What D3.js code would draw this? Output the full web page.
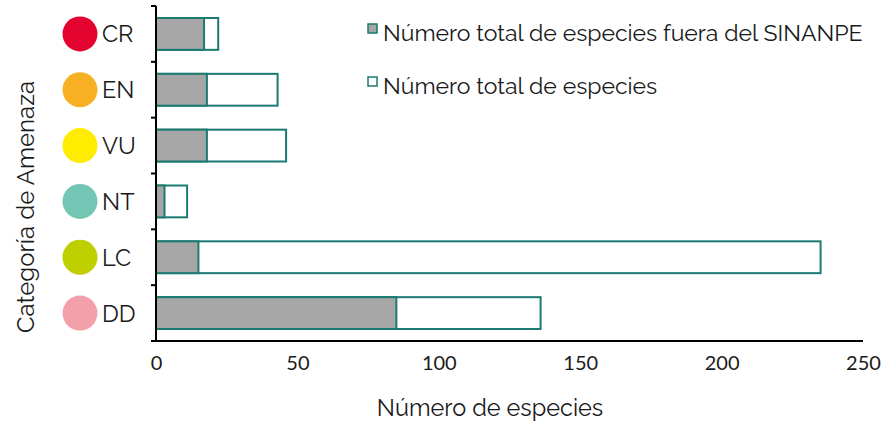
<!DOCTYPE html>
<html>
<head>
<meta charset="utf-8">
<script src="https://cdn.jsdelivr.net/npm/d3@7"></script>
<style>
  body { margin: 0; background: #fff; }
  text { fill: #1a1a1a; }
</style>
</head>
<body>
<script>
// data
var categories = ["CR", "EN", "VU", "NT", "LC", "DD"];
var catColors = ["#e4032e", "#f8b124", "#ffec00", "#74c5b4", "#bed000", "#f4a0aa"];
var fueraSinanpe = [17, 18, 18, 3, 15, 85];
var totalEspecies = [22, 43, 46, 11, 235, 136];
var xTicks = [0, 50, 100, 150, 200, 250];
var legendLabels = ["Número total de especies fuera del SINANPE", "Número total de especies"];

var svg_width = 887;
var svg_height = 423;
var teal = "#1b7a71";
var grey = "#a6a6a6";

const svg = d3.select('body')
    .append('svg')
    .attr("width", svg_width)
    .attr("height", svg_height);

// scales
const x = d3.scaleLinear().domain([0, 250]).range([156, 863]);
const y = d3.scaleBand().domain(categories).range([6, 341])
    .paddingInner(0.43).paddingOuter(0.215);

const rows = categories.map((c, i) => ({
    cat: c, color: catColors[i], fuera: fueraSinanpe[i], total: totalEspecies[i]
}));

// total bars (white with teal border) first, grey on top
svg.append('g').selectAll('rect')
    .data(rows).enter().append('rect')
    .attr('x', x(0))
    .attr('y', d => y(d.cat))
    .attr('width', d => x(d.total) - x(0))
    .attr('height', y.bandwidth())
    .attr('fill', '#fff')
    .attr('stroke', teal)
    .attr('stroke-width', 2);

svg.append('g').selectAll('rect')
    .data(rows).enter().append('rect')
    .attr('x', x(0))
    .attr('y', d => y(d.cat))
    .attr('width', d => x(d.fuera) - x(0))
    .attr('height', y.bandwidth())
    .attr('fill', grey)
    .attr('stroke', teal)
    .attr('stroke-width', 2);

// x axis, no tick marks
const xAxis = svg.append('g')
    .attr('transform', 'translate(0,341)')
    .call(d3.axisBottom(x).tickValues(xTicks).tickSize(0).tickPadding(15));
xAxis.select('.domain').attr('stroke', '#000').attr('stroke-width', 2).attr('d', 'M152,0H863');
xAxis.selectAll('text').attr('font-family', 'Lato').attr('font-size', 20).attr('fill', '#000');

// y axis with ticks on the category boundaries
const yG = svg.append('g');
yG.append('line')
    .attr('x1', x(0)).attr('x2', x(0))
    .attr('y1', y.range()[0]).attr('y2', y.range()[1])
    .attr('stroke', '#000').attr('stroke-width', 2);
yG.selectAll('.tick')
    .data(d3.range(categories.length + 1)).enter().append('line')
    .attr('x1', x(0) - 5).attr('x2', x(0))
    .attr('y1', i => y.range()[0] + i * y.step())
    .attr('y2', i => y.range()[0] + i * y.step())
    .attr('stroke', '#000').attr('stroke-width', 2);

// category labels with coloured dots
const lab = svg.append('g').selectAll('g')
    .data(rows).enter().append('g')
    .attr('transform', d => `translate(0,${y(d.cat) + y.bandwidth() / 2})`);
lab.append('circle')
    .attr('cx', 80).attr('cy', 0).attr('r', 17.5)
    .attr('fill', d => d.color);
lab.append('text')
    .attr('x', 102).attr('dy', '0.36em')
    .attr('font-family', 'Raleway, Lato, sans-serif').attr('font-size', 23.5)
    .text(d => d.cat);

// axis titles
svg.append('text')
    .attr('transform', 'translate(34,207) rotate(-90)')
    .attr('text-anchor', 'middle')
    .attr('font-family', 'Raleway, Lato, sans-serif').attr('font-size', 24)
    .text('Categoría de Amenaza');
svg.append('text')
    .attr('x', 490).attr('y', 416)
    .attr('text-anchor', 'middle')
    .attr('font-family', 'Raleway, Lato, sans-serif').attr('font-size', 23.5)
    .text('Número de especies');

// legend
const leg = svg.append('g').selectAll('g')
    .data(legendLabels).enter().append('g')
    .attr('transform', (d, i) => `translate(368,${28.5 + i * 53})`);
leg.append('rect')
    .attr('x', 0).attr('y', -4.5).attr('width', 9).attr('height', 9)
    .attr('fill', (d, i) => i === 0 ? grey : '#fff')
    .attr('stroke', teal).attr('stroke-width', 1.5);
leg.append('text')
    .attr('x', 15).attr('y', 12.5)
    .attr('font-family', 'Raleway, Lato, sans-serif').attr('font-size', 23)
    .text(d => d);
</script>
</body>
</html>
